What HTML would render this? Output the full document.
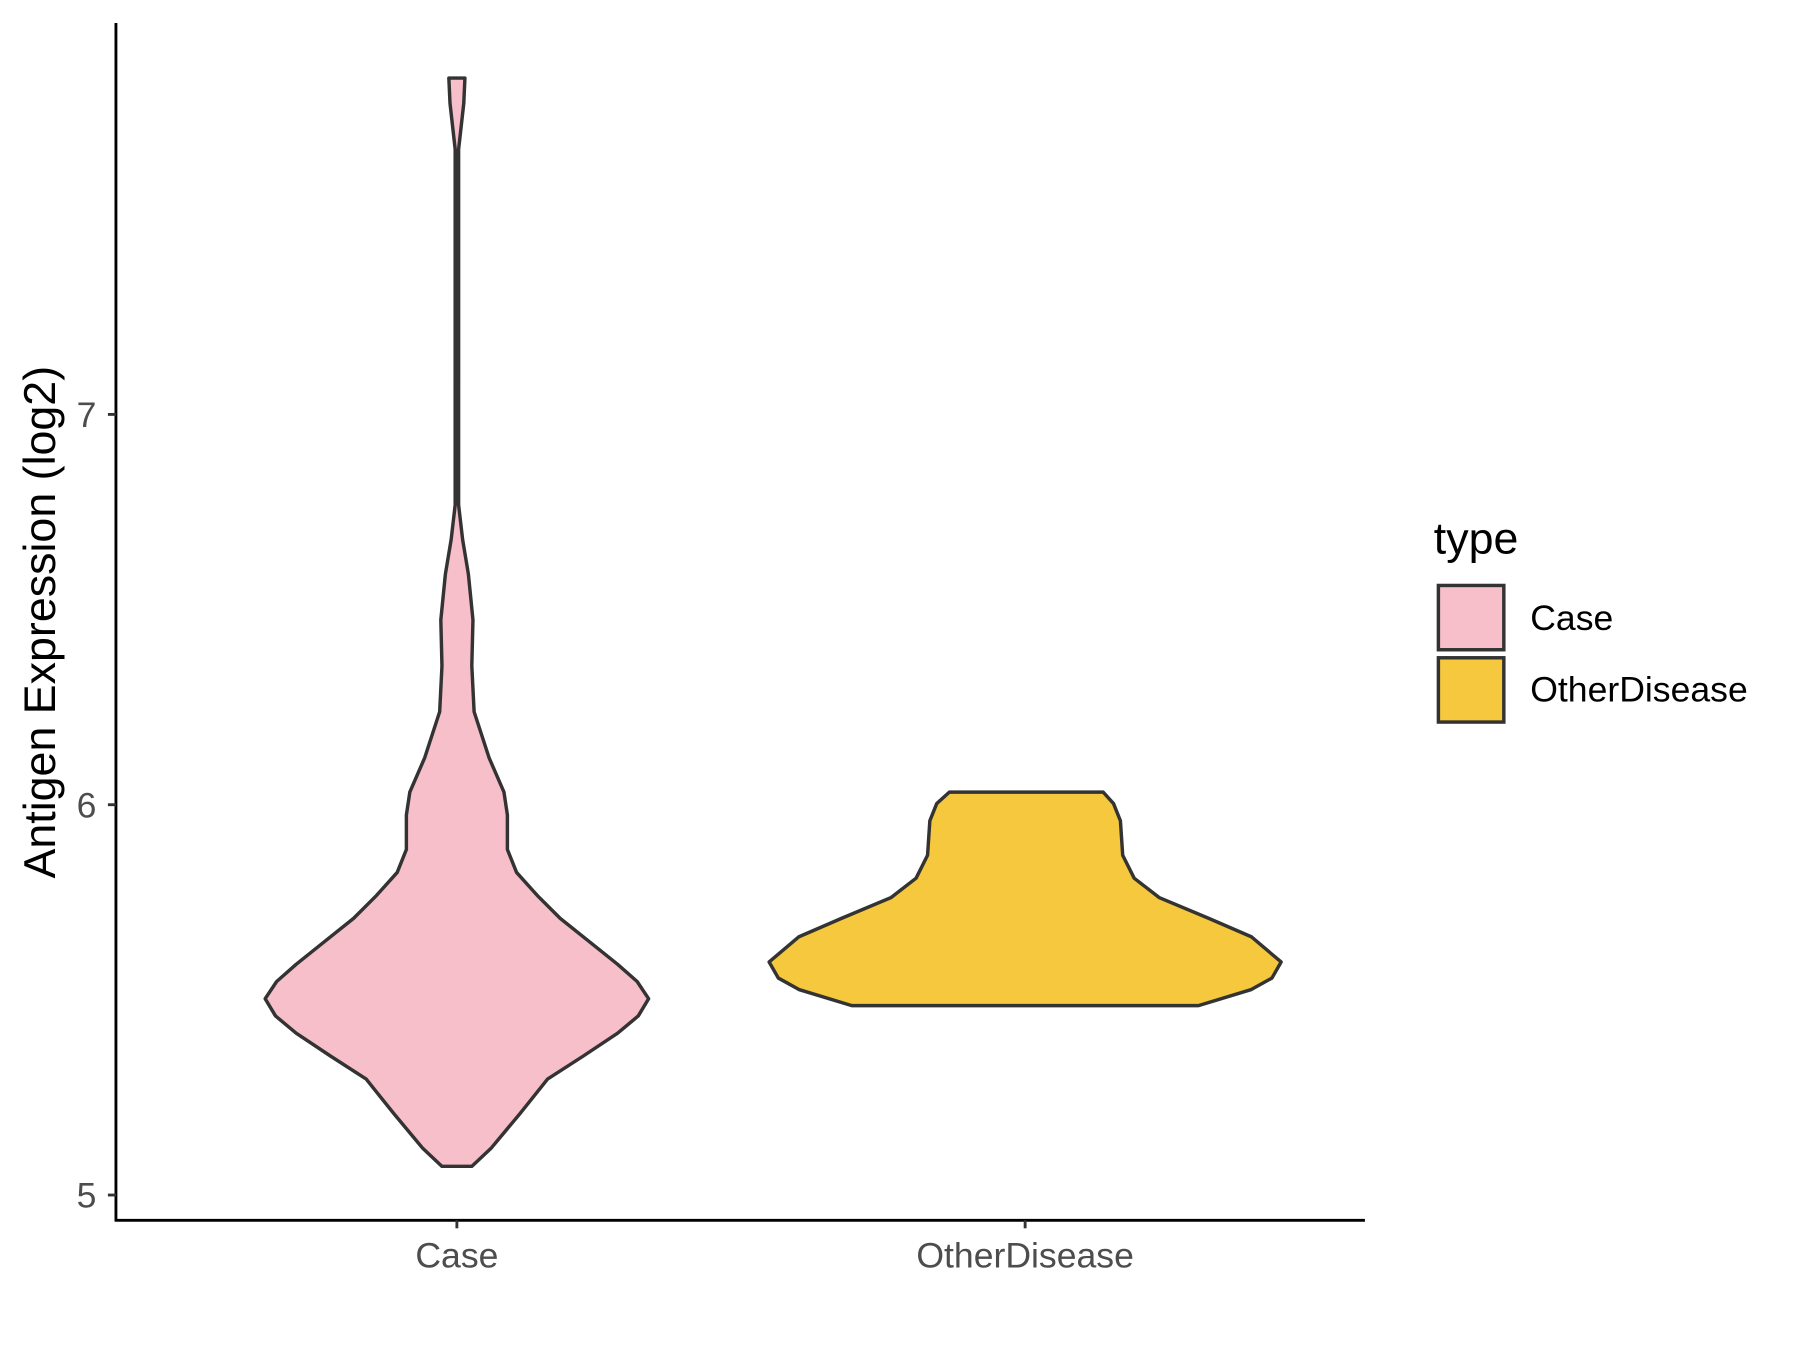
<!DOCTYPE html>
<html><head><meta charset="utf-8"><style>
html,body{margin:0;padding:0;background:#fff;}
svg{display:block;}
text{font-family:"Liberation Sans",Arial,sans-serif;}
</style></head><body>
<svg width="1800" height="1350" viewBox="0 0 1568 1176" xmlns="http://www.w3.org/2000/svg">
<rect width="1568" height="1176" fill="#fff"/>
<path d="M391,68 L405,68 L404,90 L399.5,130 L399.5,440 L403,470 L408,500 L412,540 L411,580 L413,620 L426,660 L439,690 L442,710 L442,740 L450,760 L468,780 L488,800 L513,820 L538,840 L555,855 L565,870 L556,885 L538,900 L508,920 L477,940 L453,970 L428,1000 L411,1016 L385,1016 L368,1000 L343,970 L319,940 L288,920 L258,900 L240,885 L231,870 L241,855 L258,840 L283,820 L308,800 L328,780 L346,760 L354,740 L354,710 L357,690 L370,660 L383,620 L385,580 L384,540 L388,500 L393,470 L396.5,440 L396.5,130 L392,90 Z" fill="#f7bfca" stroke="#333" stroke-width="3" stroke-linejoin="round"/>
<path d="M827,690 L961,690 L970,700 L976,715 L978,745 L988,765 L1010,782 L1053,800 L1090,816 L1116,838 L1108,852 L1090,862 L1044,876 L742,876 L696,862 L678,852 L670,838 L696,816 L733,800 L776,782 L798,765 L808,745 L810,715 L816,700 Z" fill="#f6c83e" stroke="#333" stroke-width="3" stroke-linejoin="round"/>
<line x1="101" y1="20" x2="101" y2="1064" stroke="#000" stroke-width="2.5"/>
<line x1="100" y1="1063" x2="1189" y2="1063" stroke="#000" stroke-width="2.5"/>
<g stroke="#333" stroke-width="2.5">
<line x1="94" y1="361" x2="101" y2="361"/>
<line x1="94" y1="701" x2="101" y2="701"/>
<line x1="94" y1="1041" x2="101" y2="1041"/>
<line x1="398" y1="1063" x2="398" y2="1070"/>
<line x1="893" y1="1063" x2="893" y2="1070"/>
</g>
<g font-size="31" fill="#4d4d4d">
<text x="84" y="372" text-anchor="end">7</text>
<text x="84" y="712" text-anchor="end">6</text>
<text x="84" y="1052" text-anchor="end">5</text>
<text x="398" y="1104" text-anchor="middle">Case</text>
<text x="893" y="1104" text-anchor="middle">OtherDisease</text>
</g>
<text transform="translate(48,542) rotate(-90)" font-size="39" text-anchor="middle" fill="#000">Antigen Expression (log2)</text>
<text x="1249" y="482" font-size="39" fill="#000">type</text>
<rect x="1253" y="510" width="57" height="56" fill="#f7bfca" stroke="#333" stroke-width="3"/>
<rect x="1253" y="573" width="57" height="56" fill="#f6c83e" stroke="#333" stroke-width="3"/>
<text x="1333" y="549" font-size="31" fill="#000">Case</text>
<text x="1333" y="611" font-size="31" fill="#000">OtherDisease</text>
</svg>
</body></html>
